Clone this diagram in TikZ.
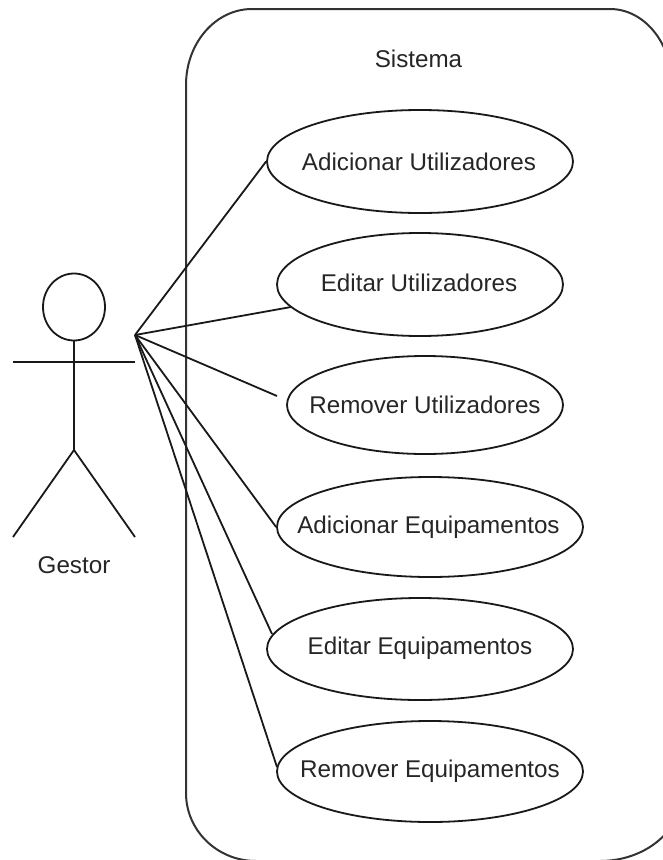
\documentclass[tikz,border=0pt]{standalone}
\usepackage{fontspec}
\setmainfont{Liberation Sans}
\usetikzlibrary{shapes.geometric}
\begin{document}
\begin{tikzpicture}[x=1pt,y=-1pt,
  lbl/.style={font=\fontsize{24.2}{28}\selectfont,inner sep=0pt,text=black!85},
  usecase/.style={draw=black!90,ellipse,line width=1.8pt,inner sep=0pt},
  ln/.style={line width=1.8pt,draw=black!90}]
\useasboundingbox (0,0) rectangle (663,860);
\clip (0,0) rectangle (663,860);
\fill[white] (0,0) rectangle (663,860);
\draw[ln,draw=black!80,line width=2pt] (600,861) -- (256,861)
  arc[start angle=90,end angle=180,x radius=70,y radius=68] -- (186,85)
  arc[start angle=180,end angle=270,x radius=66,y radius=76] -- (610,9)
  arc[start angle=-90,end angle=0,x radius=62,y radius=76];
\draw[ln,draw=black!80,line width=2pt] (600,861) arc[start angle=90,end angle=0,x radius=82,y radius=68];
\node[lbl] (sys) at (418.5,59) {Sistema};
\node[usecase,minimum width=306pt,minimum height=103pt,label={[lbl,xshift=-1pt]center:Adicionar Utilizadores}] (a) at (420,161.5) {};
\node[usecase,minimum width=286pt,minimum height=103pt,label={[lbl,xshift=-1pt,yshift=1.5pt]center:Editar Utilizadores}] (b) at (420,284.5) {};
\node[usecase,minimum width=276pt,minimum height=98pt,label={[lbl]center:Remover Utilizadores}] (c) at (425,405) {};
\node[usecase,minimum width=306pt,minimum height=100pt,label={[lbl,xshift=-1.5pt]center:Adicionar Equipamentos}] (d) at (430,527) {};
\node[usecase,minimum width=306pt,minimum height=102pt,label={[lbl,yshift=1pt]center:Editar Equipamentos}] (e) at (420,649) {};
\node[usecase,minimum width=306pt,minimum height=101pt,label={[lbl]center:Remover Equipamentos}] (f) at (430,771.5) {};
\node[draw=black!90,ellipse,line width=1.8pt,minimum width=62pt,minimum height=67pt,inner sep=0pt] (head) at (74,307) {};
\coordinate (hub) at (135,335);
\coordinate (handl) at (13,362);
\coordinate (handr) at (135,362);
\coordinate (hip) at (74,450);
\coordinate (fl) at (13,537);
\coordinate (fr) at (135,537);
\coordinate (cend) at (277,396);
\coordinate (bend) at (291,307);
\coordinate (eend) at (272,634);
\coordinate (fend) at (277,767);
\draw[ln] (head.south) -- (hip);
\draw[ln] (handl) -- (handr);
\draw[ln] (fl) -- (hip) -- (fr);
\node[lbl] (g) at (74,565) {Gestor};
\draw[ln] (hub) -- (a.west);
\draw[ln] (hub) -- (bend);
\draw[ln] (hub) -- (cend);
\draw[ln] (hub) -- (d.west);
\draw[ln] (hub) -- (eend);
\draw[ln] (hub) -- (fend);
\end{tikzpicture}
\end{document}
